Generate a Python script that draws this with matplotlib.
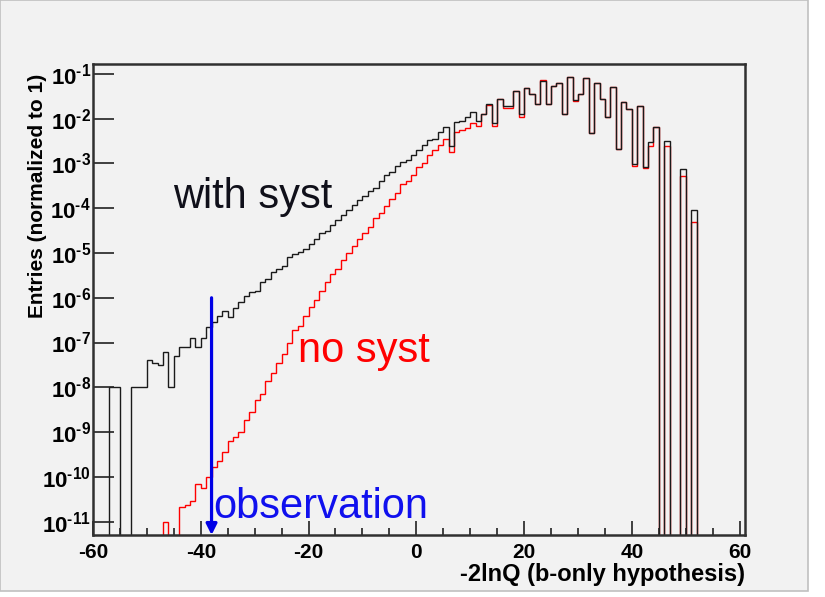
import numpy as np
import matplotlib.pyplot as plt
from matplotlib.patches import Rectangle
from matplotlib.ticker import FixedLocator, FixedFormatter, MultipleLocator

plt.rcParams['font.family'] = ['Liberation Sans', 'DejaVu Sans']
plt.rcParams['font.weight'] = 'bold'
plt.rcParams['axes.unicode_minus'] = False
plt.rcParams['mathtext.fontset'] = 'custom'
plt.rcParams['mathtext.rm'] = 'Liberation Sans:bold'
plt.rcParams['mathtext.bf'] = 'Liberation Sans:bold'

# histogram: 121 bins of width 1 from -60 to 61
bin_edges = np.arange(-60, 62)

# log10(entries) per bin, None = empty bin
with_syst = [
    None, None, None, -8.0, -8.0, None, None, -8.0, -8.0, -8.0,            # -60..-51
    -7.38, -7.45, -7.5, -7.21, -8.0, -7.3, -7.1, -7.1, -6.9, -7.1,          # -50..-41
    -6.9, -6.66, -6.54, -6.40, -6.30, -6.43, -6.22, -6.10, -5.95, -5.87,    # -40..-31
    -5.85, -5.65, -5.58, -5.43, -5.35, -5.28, -5.09, -5.02, -4.98, -4.91,   # -30..-21
    -4.79, -4.68, -4.56, -4.50, -4.38, -4.27, -4.15, -4.05, -3.92, -3.82,   # -20..-11
    -3.72, -3.62, -3.55, -3.40, -3.25, -3.18, -3.05, -2.97, -2.92, -2.80,   # -10..-1
    -2.70, -2.58, -2.47, -2.45, -2.30, -2.19, -2.60, -2.08, -2.05, -1.95,   # 0..9
    -1.86, -2.05, -1.90, -1.66, -2.09, -1.55, -1.71, -1.71, -1.38, -1.90,   # 10..19
    -1.31, -1.45, -1.68, -1.16, -1.68, -1.27, -1.21, -1.90, -1.06, -1.58,   # 20..29
    -1.45, -1.10, -2.31, -1.21, -1.55, -1.97, -1.30, -2.67, -1.63, -1.78,   # 30..39
    -3.01, -1.72, -3.08, -2.53, -2.18, None, -2.49, None, None, -3.12,      # 40..49
    None, -4.05, None, None, None, None, None, None, None, None,            # 50..59
    None,                                                                   # 60
]

no_syst = [
    None, None, None, None, None, None, None, None, None, None,             # -60..-51
    None, None, None, -11.0, None, None, -10.67, -10.62, -10.55, -10.15,    # -50..-41
    -10.26, -10.0, -9.77, -9.65, -9.45, -9.19, -9.10, -9.0, -8.74, -8.55,   # -40..-31
    -8.29, -8.14, -7.85, -7.68, -7.45, -7.25, -7.0, -6.73, -6.62, -6.40,    # -30..-21
    -6.20, -6.05, -5.85, -5.65, -5.46, -5.35, -5.15, -5.0, -4.85, -4.68,    # -20..-11
    -4.55, -4.42, -4.22, -4.10, -3.94, -3.79, -3.65, -3.45, -3.38, -3.25,   # -10..-1
    -3.08, -3.0, -2.82, -2.70, -2.58, -2.45, -2.75, -2.30, -2.25, -2.20,    # 0..9
    -2.10, -2.16, -1.90, -1.70, -2.16, -1.55, -1.75, -1.75, -1.38, -1.95,   # 10..19
    -1.31, -1.45, -1.68, -1.13, -1.68, -1.27, -1.21, -1.90, -1.06, -1.60,   # 20..29
    -1.45, -1.10, -2.31, -1.21, -1.57, -1.97, -1.30, -2.67, -1.63, -1.78,   # 30..39
    -3.05, -1.72, -3.10, -2.60, -2.19, None, -2.62, None, None, -3.29,      # 40..49
    None, -4.31, None, None, None, None, None, None, None, None,            # 50..59
    None,                                                                   # 60
]

observed = -38.0
decades = list(range(-11, 0))


def to_counts(logs):
    # empty bins go far below the axis so the outline drops to the bottom
    return np.array([10.0 ** v if v is not None else 1e-30 for v in logs])


fig = plt.figure(figsize=(8.25, 5.97), dpi=100, facecolor='white')
fig.patches.append(Rectangle((0, 1 - 591 / 597), 808 / 825, 591 / 597,
                             transform=fig.transFigure, facecolor='#f2f2f2',
                             edgecolor='#c0c0c0', linewidth=1.2, zorder=-10))

ax = fig.add_axes([93 / 825, 1 - 535 / 597, 652 / 825, 471 / 597])
ax.set_facecolor('#f2f2f2')
ax.set_yscale('log')

ax.stairs(to_counts(no_syst), bin_edges, baseline=None, color='red', lw=1.0)
ax.stairs(to_counts(with_syst), bin_edges, baseline=None, color='#1a1a1a', lw=1.0)

ax.set_xlim(-60, 61)
ax.set_ylim(10 ** -11.3, 10 ** -0.777)

ax.annotate('', xy=(observed, 10 ** -11.3), xytext=(observed, 1e-6),
            arrowprops=dict(arrowstyle='-|>', color='#0000e6', lw=2.3,
                            mutation_scale=16, shrinkA=0, shrinkB=0))

ax.text(-45.2, 1e-4, 'with syst', fontsize=30, fontweight='normal',
        color='#10101a', va='baseline')
ax.text(-21.9, 10 ** -7.44, 'no syst', fontsize=30, fontweight='normal',
        color='red', va='baseline')
ax.text(-37.6, 10 ** -10.93, 'observation', fontsize=30, fontweight='normal',
        color='#1010ee', va='baseline')

# ROOT style ticks
ax.xaxis.set_major_locator(MultipleLocator(20))
ax.xaxis.set_minor_locator(MultipleLocator(5))
ax.yaxis.set_major_locator(FixedLocator([10.0 ** d for d in decades]))
ax.yaxis.set_major_formatter(FixedFormatter(
    [r'$\mathbf{10}^{\text{-}\mathbf{%d}}$' % (-d) for d in decades]))
ax.tick_params(axis='both', which='both', direction='in', top=False, right=False,
               width=1.2, color='#222222')
ax.tick_params(axis='x', which='major', length=10, pad=6, labelsize=15)
ax.tick_params(axis='x', which='minor', length=5)
ax.tick_params(axis='y', which='major', length=15, pad=1.5, labelsize=16)
ax.tick_params(axis='y', which='minor', length=8)
for s in ax.spines.values():
    s.set_linewidth(1.8)
    s.set_color('#303030')

fig.text(745 / 825, 1 - 581 / 597, '-2lnQ (b-only hypothesis)', fontsize=17,
         fontweight='bold', ha='right', va='baseline')
fig.text(38 / 825, 1 - 74 / 597, 'Entries (normalized to 1)', fontsize=15,
         fontweight='bold', rotation=90, ha='center', va='top')

fig.savefig('out.png', dpi=100, facecolor=fig.get_facecolor())
